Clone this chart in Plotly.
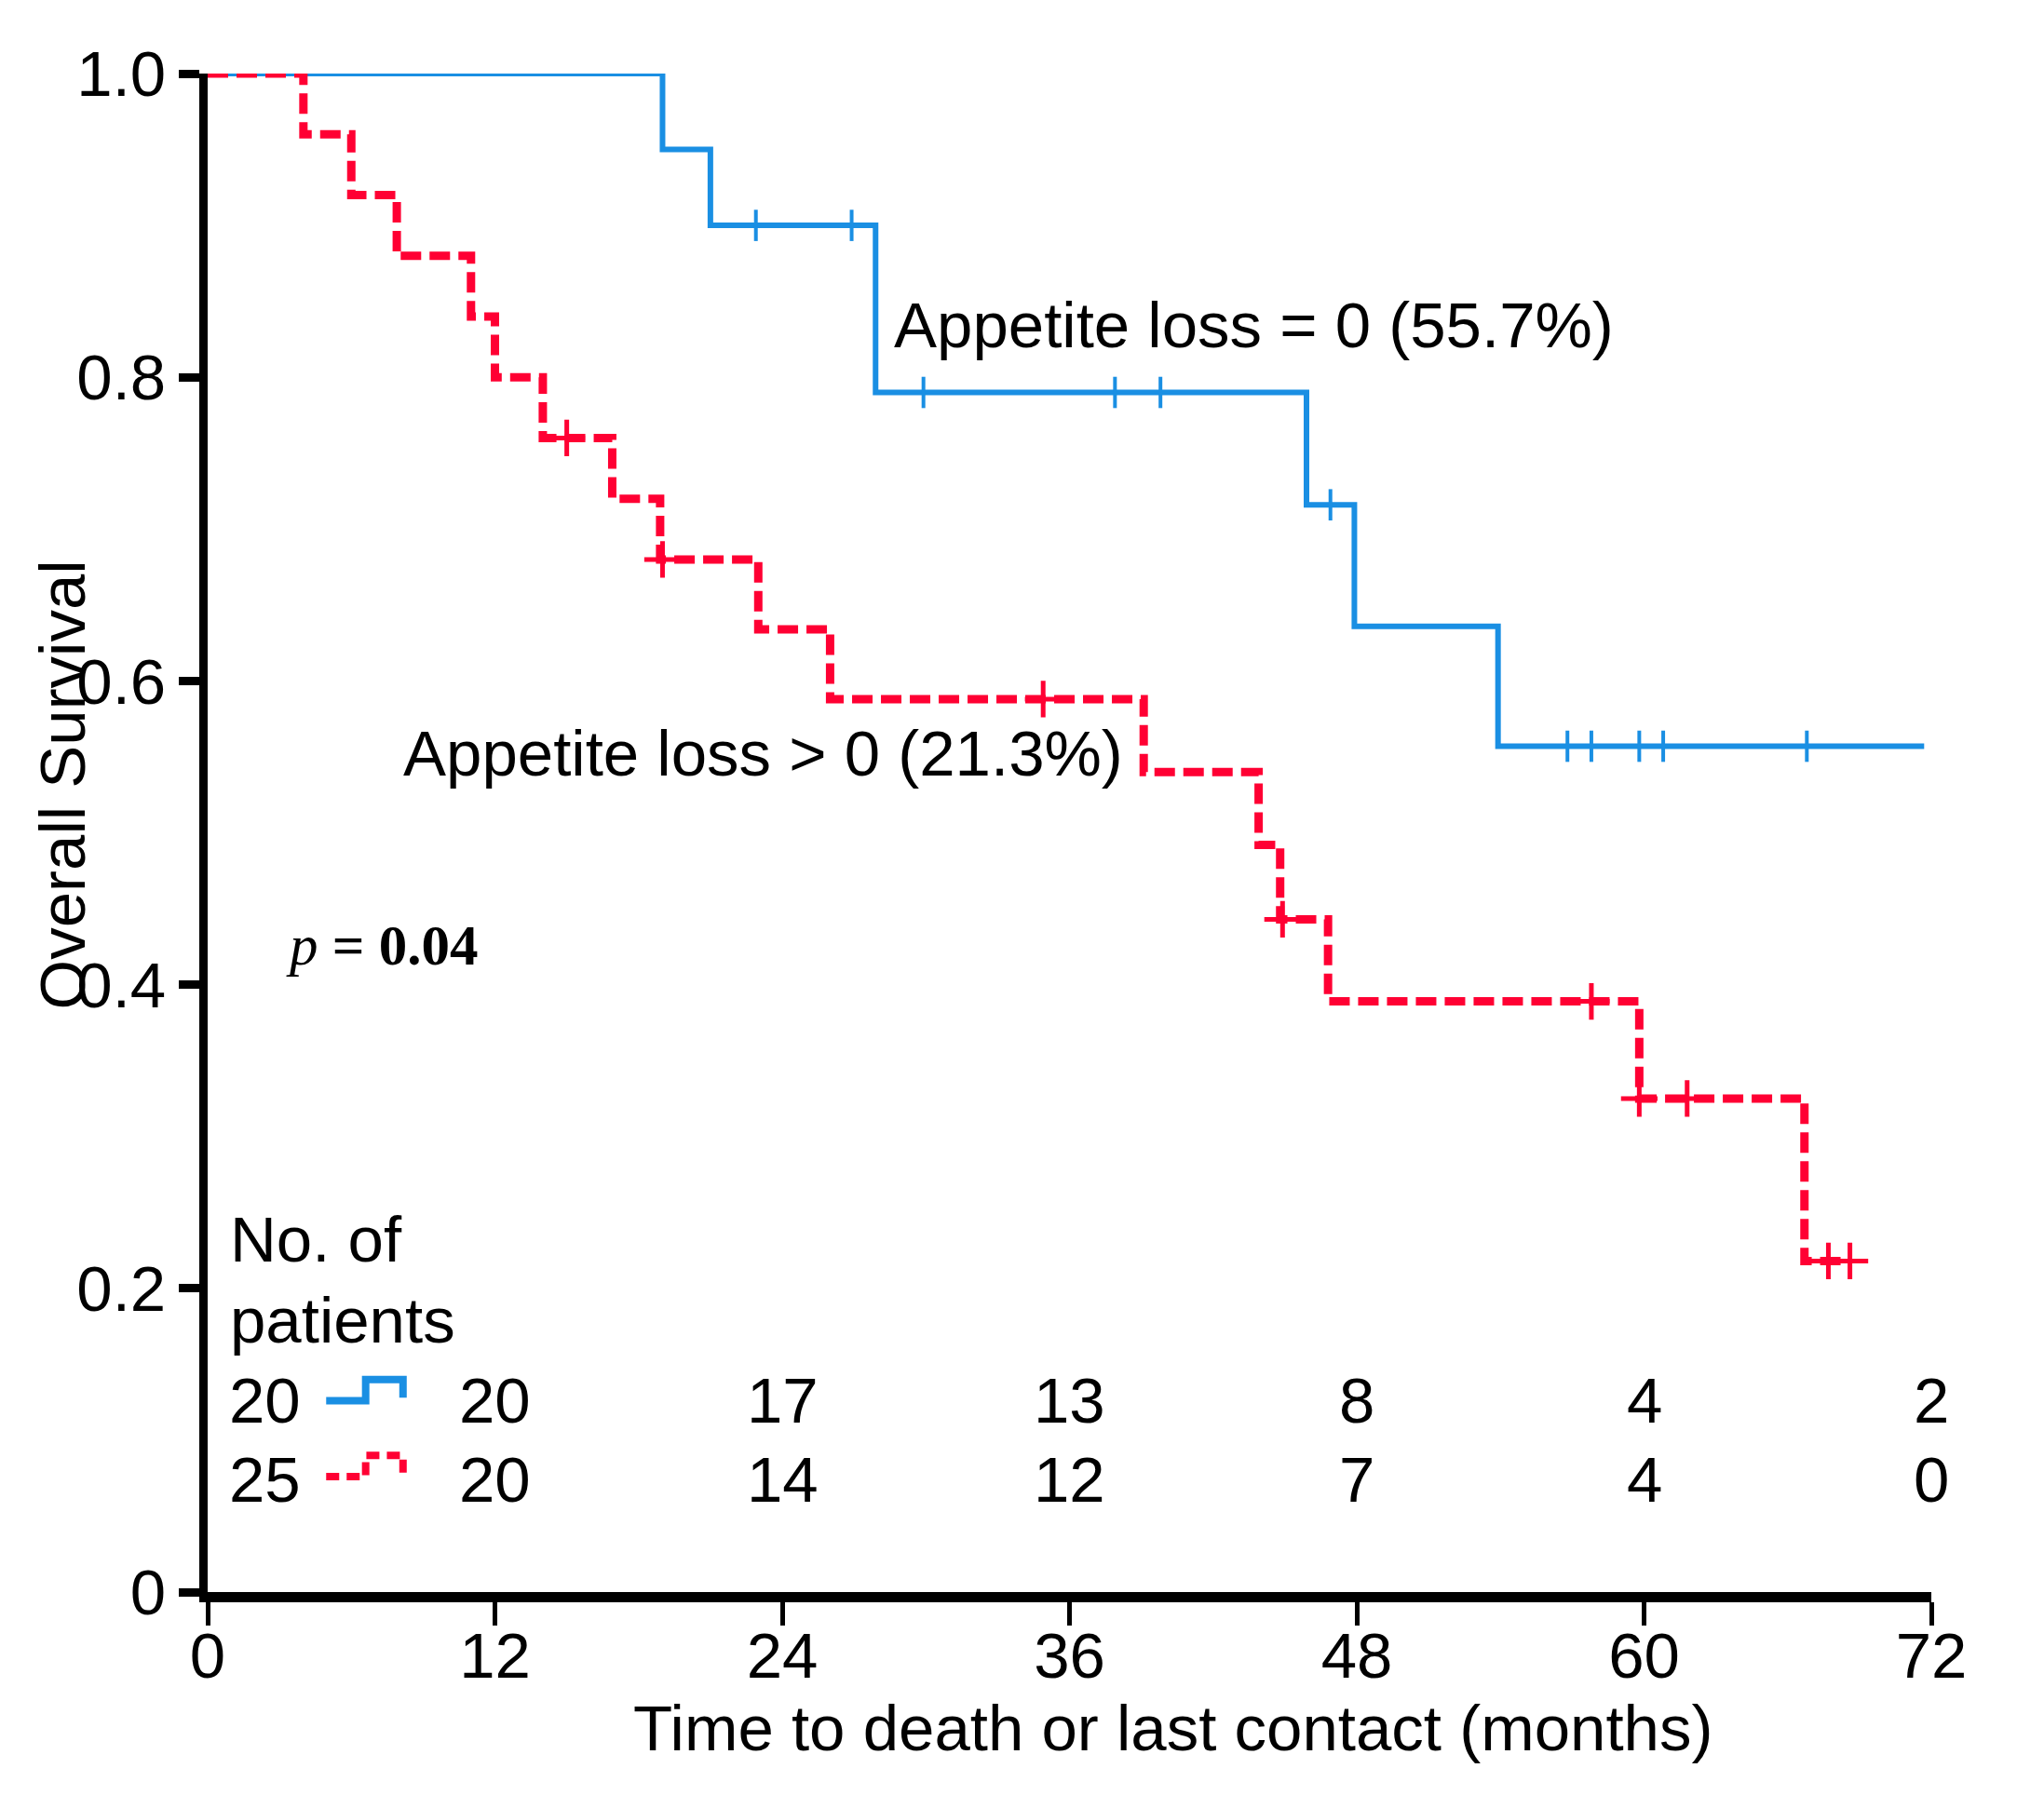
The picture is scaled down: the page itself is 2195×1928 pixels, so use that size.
import numpy as np
import plotly.graph_objects as go

# ---------------- data ----------------
month_ticks = [0, 12, 24, 36, 48, 60, 72]
surv_ticks = [0, 0.2, 0.4, 0.6, 0.8, 1.0]
surv_tick_labels = ["0", "0.2", "0.4", "0.6", "0.8", "1.0"]

# Appetite loss = 0 (blue, solid)
blue_times = [0, 19.0, 21.0, 27.9, 45.9, 47.9, 53.9, 71.7]
blue_surv = [1.0, 0.95, 0.90, 0.79, 0.716, 0.636, 0.557, 0.557]
blue_censor = [22.9, 26.9, 29.9, 37.9, 39.8, 46.9, 56.8, 57.8, 59.8, 60.8, 66.8]

# Appetite loss > 0 (red, dashed)
red_times = [0, 4.0, 6.0, 7.9, 11.0, 12.0, 14.0, 16.9, 18.9, 23.0, 26.0,
             39.1, 43.9, 44.8, 46.8, 59.8, 66.7, 68.6]
red_surv = [1.0, 0.96, 0.92, 0.88, 0.84, 0.80, 0.76, 0.72, 0.68, 0.634, 0.588,
            0.54, 0.492, 0.443, 0.389, 0.325, 0.218, 0.218]
red_censor = [15.0, 19.0, 34.9, 44.9, 57.8, 59.8, 61.8, 67.7, 68.6]

group_labels = ["Appetite loss = 0 (55.7%)", "Appetite loss > 0 (21.3%)"]
group_n = [20, 25]
risk_times = [12, 24, 36, 48, 60, 72]
blue_at_risk = [20, 17, 13, 8, 4, 2]
red_at_risk = [20, 14, 12, 7, 4, 0]

BLUE = "#1a8fe3"
RED = "#ff0033"
FONT = "Liberation Sans, Arial, sans-serif"
FS = 69


def step_value(times, surv, t):
    idx = np.searchsorted(np.array(times), t, side="right") - 1
    return [surv[i] for i in idx]


fig = go.Figure()

# blue curve
fig.add_trace(go.Scatter(x=blue_times, y=blue_surv, mode="lines", line_shape="hv",
                         line=dict(color=BLUE, width=6), cliponaxis=False, showlegend=False))
fig.add_trace(go.Scatter(x=blue_censor, y=step_value(blue_times, blue_surv, blue_censor),
                         mode="markers", cliponaxis=False, showlegend=False,
                         marker=dict(symbol="line-ns", size=24, line=dict(color=BLUE, width=4))))
# red curve
fig.add_trace(go.Scatter(x=red_times, y=red_surv, mode="lines", line_shape="hv",
                         line=dict(color=RED, width=9, dash="22px,9px"), cliponaxis=False,
                         showlegend=False))
fig.add_trace(go.Scatter(x=red_censor, y=step_value(red_times, red_surv, red_censor),
                         mode="markers", cliponaxis=False, showlegend=False,
                         marker=dict(symbol="cross-thin", size=28, line=dict(color=RED, width=5))))

# small line-style glyphs in the number-at-risk table
glyph_dx = [4.95, 6.6, 6.6, 8.16, 8.16]
glyph_dy = [0.0, 0.0, 0.014, 0.014, 0.002]
row_y = [0.126, 0.074]
fig.add_trace(go.Scatter(x=glyph_dx, y=[row_y[0] + d for d in glyph_dy], mode="lines",
                         line=dict(color=BLUE, width=8), showlegend=False))
fig.add_trace(go.Scatter(x=glyph_dx, y=[row_y[1] + 0.002 + d for d in glyph_dy], mode="lines",
                         line=dict(color=RED, width=8, dash="14px,8px"), showlegend=False))

ann = []
# curve labels
ann.append(dict(x=28.6, y=0.834, xref="x", yref="y", text=group_labels[0], showarrow=False,
                xanchor="left", yanchor="middle", font=dict(family=FONT, size=FS, color="black")))
ann.append(dict(x=8.1, y=0.552, xref="x", yref="y", text=group_labels[1], showarrow=False,
                xanchor="left", yanchor="middle", font=dict(family=FONT, size=FS, color="black")))
# p value
ann.append(dict(x=3.2, y=0.426, xref="x", yref="y", text="<i>p</i><b> = 0.04</b>", showarrow=False,
                xanchor="left", yanchor="middle",
                font=dict(family="Liberation Serif, Times New Roman, serif", size=61, color="black")))
# number at risk header
ann.append(dict(x=0.85, y=0.232, xref="x", yref="y", text="No. of", showarrow=False,
                xanchor="left", yanchor="middle", font=dict(family=FONT, size=FS, color="black")))
ann.append(dict(x=0.85, y=0.179, xref="x", yref="y", text="patients", showarrow=False,
                xanchor="left", yanchor="middle", font=dict(family=FONT, size=FS, color="black")))
for n, yy in zip(group_n, row_y):
    ann.append(dict(x=2.4, y=yy, xref="x", yref="y", text=str(n), showarrow=False,
                    xanchor="center", yanchor="middle", font=dict(family=FONT, size=FS, color="black")))
for t, b, r in zip(risk_times, blue_at_risk, red_at_risk):
    ann.append(dict(x=t, y=row_y[0], xref="x", yref="y", text=str(b), showarrow=False,
                    xanchor="center", yanchor="middle", font=dict(family=FONT, size=FS, color="black")))
    ann.append(dict(x=t, y=row_y[1], xref="x", yref="y", text=str(r), showarrow=False,
                    xanchor="center", yanchor="middle", font=dict(family=FONT, size=FS, color="black")))
# axis titles
ann.append(dict(x=-0.084, y=0.5316, xref="paper", yref="paper", text="Overall Survival",
                textangle=-90, showarrow=False, xanchor="center", yanchor="middle",
                font=dict(family=FONT, size=FS, color="black")))
ann.append(dict(x=0.56, y=-0.0901, xref="paper", yref="paper",
                text="Time to death or last contact (months)", showarrow=False,
                xanchor="center", yanchor="middle", font=dict(family=FONT, size=FS, color="black")))

fig.update_layout(
    width=2195, height=1928,
    margin=dict(l=215, r=129, t=71, b=226),
    paper_bgcolor="white", plot_bgcolor="white",
    annotations=ann,
    xaxis=dict(range=[0, 72], tickvals=month_ticks, ticktext=[str(m) for m in month_ticks],
               showline=True, linewidth=11, linecolor="black", ticks="outside", ticklen=25,
               tickwidth=5, tickcolor="black", showgrid=False, zeroline=False,
               ticklabelstandoff=-27,
               tickfont=dict(family=FONT, size=FS, color="black")),
    yaxis=dict(range=[0, 1], tickvals=surv_ticks, ticktext=surv_tick_labels,
               showline=True, linewidth=9, linecolor="black", ticks="outside", ticklen=22,
               tickwidth=9, tickcolor="black", showgrid=False, zeroline=False,
               tickfont=dict(family=FONT, size=FS, color="black")),
)

fig.write_html("out.html")
